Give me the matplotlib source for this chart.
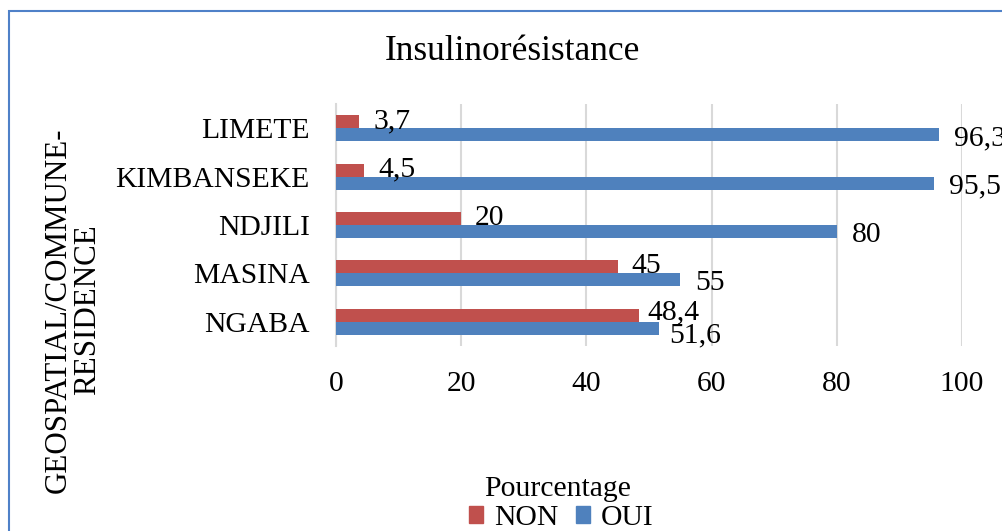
import matplotlib
matplotlib.use("Agg")
import matplotlib.pyplot as plt
from matplotlib.patches import Rectangle, Patch

categories = ["NGABA", "MASINA", "NDJILI", "KIMBANSEKE", "LIMETE"]
non_values = [48.4, 45, 20, 4.5, 3.7]
oui_values = [51.6, 55, 80, 95.5, 96.3]
xticks = [0, 20, 40, 60, 80, 100]

RED = "#C0504D"
BLUE = "#4F81BD"

plt.rcParams["font.family"] = ["Liberation Serif", "DejaVu Serif"]

W, H = 1003, 531
fig = plt.figure(figsize=(W / 100, H / 100), dpi=100)
fig.patch.set_facecolor("white")

# border
fig.add_artist(Rectangle((9 / W, 1 - 540 / H), (1020 - 9) / W, (540 - 11) / H,
                         transform=fig.transFigure, fill=False,
                         edgecolor="#4F81C8", linewidth=1.5))

ax = fig.add_axes([336 / W, 1 - 346 / H, (962 - 336) / W, (346 - 104) / H])

h = 0.27
y = list(range(len(categories)))
ax.barh([i + h / 2 for i in y], non_values, height=h, color=RED, label="NON", zorder=3)
ax.barh([i - h / 2 for i in y], oui_values, height=h, color=BLUE, label="OUI", zorder=3)

fs = 21.3
def fmt(v):
    return ("%g" % v).replace(".", ",")

for i, v in enumerate(non_values):
    dy = 2 if i == 0 else 0.5
    dx = 6 if i == 0 else 10
    ax.annotate(fmt(v), (v, i + h / 2), xytext=(dx, dy), textcoords="offset points",
                va="center", ha="left", fontsize=fs, color="black", zorder=4)
for i, v in enumerate(oui_values):
    dy = -5 if i == 0 else -2.5
    dx = 7 if i == 0 else 11
    ax.annotate(fmt(v), (v, i - h / 2), xytext=(dx, dy), textcoords="offset points",
                va="center", ha="left", fontsize=fs, color="black", zorder=4,
                annotation_clip=False)

ax.set_xlim(0, 100)
ax.set_ylim(-0.5, len(categories) - 0.5)
ax.set_xticks(xticks)
ax.set_xticklabels([str(t) for t in xticks], fontsize=fs)
ax.set_yticks(y)
ax.set_yticklabels(categories, fontsize=fs)
ax.tick_params(axis="both", length=0)
ax.tick_params(axis="x", pad=18)
ax.tick_params(axis="y", pad=19)
ax.grid(axis="x", color="#D9D9D9", linewidth=1.5, zorder=0)
for s in ["top", "right", "bottom"]:
    ax.spines[s].set_visible(False)
ax.spines["left"].set_color("#D9D9D9")
ax.spines["left"].set_linewidth(1.5)
ax.spines["left"].set_zorder(1)

fig.text(512 / W, 1 - 51 / H, "Insulinorésistance", ha="center", va="center", fontsize=25.5)
fig.text(73 / W, 1 - 310 / H, "GEOSPATIAL/COMMUNE-\nRESIDENCE", rotation=90,
         ha="center", va="center", fontsize=22.3, linespacing=1.05)
fig.text(558 / W, 1 - 489 / H, "Pourcentage", ha="center", va="center", fontsize=fs)

handles = [Patch(color=RED, label="NON"), Patch(color=BLUE, label="OUI")]
fig.legend(handles=handles, loc="center", bbox_to_anchor=(561 / W, 1 - 518 / H),
           ncol=2, frameon=False, fontsize=fs, handlelength=0.5, handleheight=0.5,
           handletextpad=0.35, columnspacing=0.6, borderaxespad=0, borderpad=0)

fig.savefig("out.png", dpi=100)
